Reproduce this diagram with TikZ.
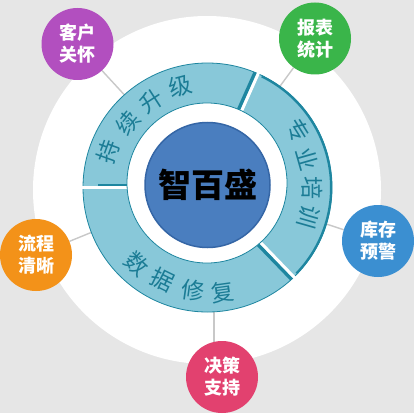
\documentclass[tikz,border=0pt]{standalone}
\usepackage{fontspec}
\setmainfont{Noto Sans CJK SC}
\pgfdeclarelayer{bg}
\pgfdeclarelayer{lines}
\pgfsetlayers{bg,lines,main}
\definecolor{bggray}{HTML}{E6E6E6}
\definecolor{ringfill}{HTML}{88C8D9}
\definecolor{ringdark}{HTML}{1E86A0}
\definecolor{ringtext}{HTML}{1B7C95}
\definecolor{cblue}{HTML}{4A7EBF}
\definecolor{cblueD}{HTML}{3566A6}
\definecolor{purp}{HTML}{B24FBF}
\definecolor{grn}{HTML}{3AB54A}
\definecolor{sblue}{HTML}{3B8FD1}
\definecolor{orng}{HTML}{F39219}
\definecolor{pink}{HTML}{E2416F}
\definecolor{conncol}{HTML}{C8C8C8}
\begin{document}
\begin{tikzpicture}[x=1pt,y=1pt,
  seg/.style={fill=ringfill, draw=ringdark, line width=0.8pt},
  sat/.style={circle, minimum size=72pt, inner sep=0pt, text=white,
    font=\fontsize{18}{22}\selectfont\bfseries, align=center},
  conn/.style={draw=conncol, line width=1.4pt},
  ringtxt/.style={text=ringtext, inner sep=0pt, font=\fontsize{23}{23}\selectfont},
  gapline/.style={draw=white, line width=3pt},
  darkstripe/.style={draw=ringdark, line width=3.5pt}]
\useasboundingbox (0,0) rectangle (414,413);
\begin{pgfonlayer}{bg}
  \fill[bggray] (0,0) rectangle (414,413);
  \fill[white] (207,223) circle[radius=174pt];
\end{pgfonlayer}
\coordinate (C) at (207.5,225.5);
\begin{scope}[shift={(C)}]
  % ring segments
  \path[seg] (66:124.5) arc[start angle=66,end angle=180,radius=124.5pt]
     -- (180:70) arc[start angle=180,end angle=66,radius=70pt] -- cycle;
  \path[seg] (-46:124.5) arc[start angle=-46,end angle=66,radius=124.5pt]
     -- (66:70) arc[start angle=66,end angle=-46,radius=70pt] -- cycle;
  \path[seg] (180:124.5) arc[start angle=180,end angle=314,radius=124.5pt]
     -- (314:70) arc[start angle=314,end angle=180,radius=70pt] -- cycle;
  % heavier outer edge of the right segment
  \draw[ringdark, line width=2.2pt] (-44:123.6) arc[start angle=-44,end angle=64,radius=123.6pt];
  % dark stripes beside the gaps
  \begin{scope}[rotate=66]
    \draw[darkstripe] (70,3.3) -- (124.5,3.3);
    \draw[gapline] (60,0) -- (127,0);
  \end{scope}
  \begin{scope}[rotate=-46]
    \draw[darkstripe] (70,-3.3) -- (124.5,-3.3);
    \draw[gapline] (60,0) -- (127,0);
  \end{scope}
  \begin{scope}[rotate=180]
    \draw[ringdark, line width=2.2pt] (70,-2.6) -- (110,-2.6);
    \draw[gapline] (60,0) -- (127,0);
  \end{scope}
\end{scope}
% inner white disk
\fill[white, draw=ringdark, line width=0.8pt] (207,230) circle[radius=80pt];
% ring texts
\begin{scope}[shift={(C)}]
  \node[ringtxt, rotate=70] (r1) at (160:106) {持};
  \node[ringtxt, rotate=51] (r2) at (141:102) {续};
  \node[ringtxt, rotate=33] (r3) at (123:103) {升};
  \node[ringtxt, rotate=15] (r4) at (105:105) {级};
  \node[ringtxt, rotate=-58] (r5) at (32:107) {专};
  \node[ringtxt, rotate=-74] (r6) at (16:104) {业};
  \node[ringtxt, rotate=-90] (r7) at (0:105) {培};
  \node[ringtxt, rotate=-106] (r8) at (-16:105) {训};
  \node[ringtxt, rotate=-43] (r9) at (227:104) {数};
  \node[ringtxt, rotate=-26] (r10) at (244:103) {据};
  \node[ringtxt, rotate=-8] (r11) at (262:104) {修};
  \node[ringtxt, rotate=8] (r12) at (278:106) {复};
\end{scope}
% centre
\node[circle, minimum size=125pt, inner sep=0pt, fill=cblue, draw=cblueD, line width=1.5pt,
  font=\fontsize{33}{36}\selectfont\bfseries] (zbs) at (207.5,228) {智百盛};
% satellites
\node[sat, fill=purp] (kh) at (77.5,369) {客户\\关怀};
\node[sat, fill=grn] (bb) at (315,374.5) {报表\\统计};
\node[sat, fill=sblue] (kc) at (378,172) {库存\\预警};
\node[sat, fill=orng] (lc) at (36,158) {流程\\清晰};
\node[sat, fill=pink] (jc) at (222,36) {决策\\支持};
% connectors
\begin{pgfonlayer}{lines}
  \draw[conn] (kh) -- (zbs);
  \draw[conn] (bb) -- (zbs);
  \draw[conn] (kc) -- (zbs);
  \draw[conn] (lc) -- (zbs);
  \draw[conn] (jc.103) -- (jc.103 |- zbs.center);
\end{pgfonlayer}
\end{tikzpicture}
\end{document}
